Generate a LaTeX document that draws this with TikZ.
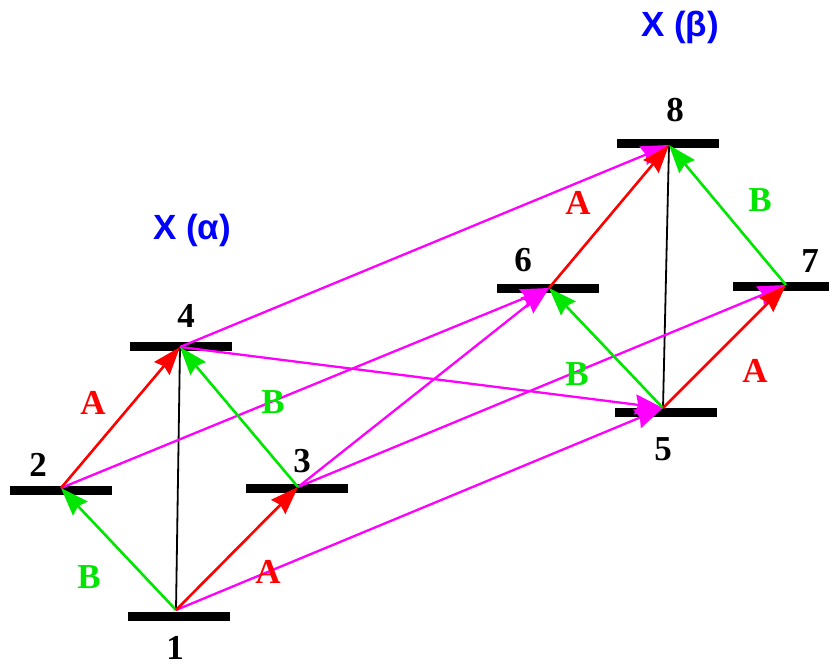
\documentclass[tikz,border=0pt]{standalone}
\usepackage{fontspec}
\setmainfont{Liberation Serif}
\newfontfamily\xsans{Liberation Sans}
\usetikzlibrary{arrows.meta}
\definecolor{cgreen}{RGB}{0,230,0}
\definecolor{cmag}{RGB}{255,0,255}
\tikzset{
  bar/.style={fill=black, draw=none, minimum width=102pt, minimum height=9pt, inner sep=0pt},
  lvl/.style={font=\fontsize{35}{35}\selectfont\bfseries, inner sep=0pt},
  trA/.style={font=\fontsize{35}{35}\selectfont\bfseries, text=red, inner sep=0pt},
  trB/.style={font=\fontsize{35}{35}\selectfont\bfseries, text=cgreen, inner sep=0pt},
  xlab/.style={font=\xsans\fontsize{35}{35}\selectfont\bfseries, text=blue, inner sep=0pt},
  tip/.style={-{Stealth[length=28pt,width=20pt,inset=3pt]}},
  aarr/.style={tip, draw=red, fill=red, line width=2.6pt},
  barr/.style={tip, draw=cgreen, fill=cgreen, line width=2.6pt},
  marr/.style={tip, draw=cmag, fill=cmag, line width=2.3pt},
  vline/.style={draw=black, line width=1.8pt}
}
\begin{document}
\begin{tikzpicture}[x=1pt, y=-1pt]
\useasboundingbox (0,0) rectangle (829,664);
% bars
\node[bar] (n1) at (179,616.5) {};
\node[bar] (n2) at (61,490) {};
\node[bar] (n3) at (296.5,488.5) {};
\node[bar] (n4) at (181,346.5) {};
\node[bar] (n5) at (666,412.5) {};
\node[bar] (n6) at (548,288) {};
\node[bar] (n7) at (784,286.5) {};
\node[bar] (n8) at (668,143.5) {};
% ports
\coordinate (p1) at (176,610);
\coordinate (p2) at (61,488);
\coordinate (p3) at (298,487);
\coordinate (p4) at (180,347);
\coordinate (p5) at (663,408);
\coordinate (p6) at (549,288);
\coordinate (p7) at (786,285);
\coordinate (p8) at (669,145);
% black lines
\draw[vline] (p1) -- (p4);
\draw[vline] (p5) -- (p8);
% magenta
\draw[marr] (p1) -- (p5);
\draw[marr] (p2) -- (p6);
\draw[marr] (p3) -- (p6);
\draw[marr] (p3) -- (p7);
\draw[marr] (p4) -- (p5);
\draw[marr] (p4) -- (p8);
% green
\draw[barr] (p1) -- (p2);
\draw[barr] (p3) -- (p4);
\draw[barr] (p5) -- (p6);
\draw[barr] (p7) -- (p8);
% red
\draw[aarr] (p1) -- (p3);
\draw[aarr] (p2) -- (p4);
\draw[aarr] (p5) -- (p7);
\draw[aarr] (p6) -- (p8);
% level labels
\node[lvl] (l1) at (175,648) {1};
\node[lvl] (l2) at (38,465) {2};
\node[lvl] (l3) at (302,461) {3};
\node[lvl] (l4) at (186,316) {4};
\node[lvl] (l5) at (663,449) {5};
\node[lvl] (l6) at (523,260) {6};
\node[lvl] (l7) at (810,261) {7};
\node[lvl] (l8) at (675,110) {8};
% transition labels
\node[trA] (a1) at (93,403) {A};
\node[trA] (a2) at (268,572) {A};
\node[trA] (a3) at (578,203) {A};
\node[trA] (a4) at (755,371) {A};
\node[trB] (b1) at (89,577) {B};
\node[trB] (b2) at (273,402) {B};
\node[trB] (b3) at (760,200) {B};
\node[trB] (b4) at (577,374) {B};
% titles
\node[xlab] (xa) at (192,230) {X (α)};
\node[xlab] (xb) at (680,27) {X (β)};
\end{tikzpicture}
\end{document}
